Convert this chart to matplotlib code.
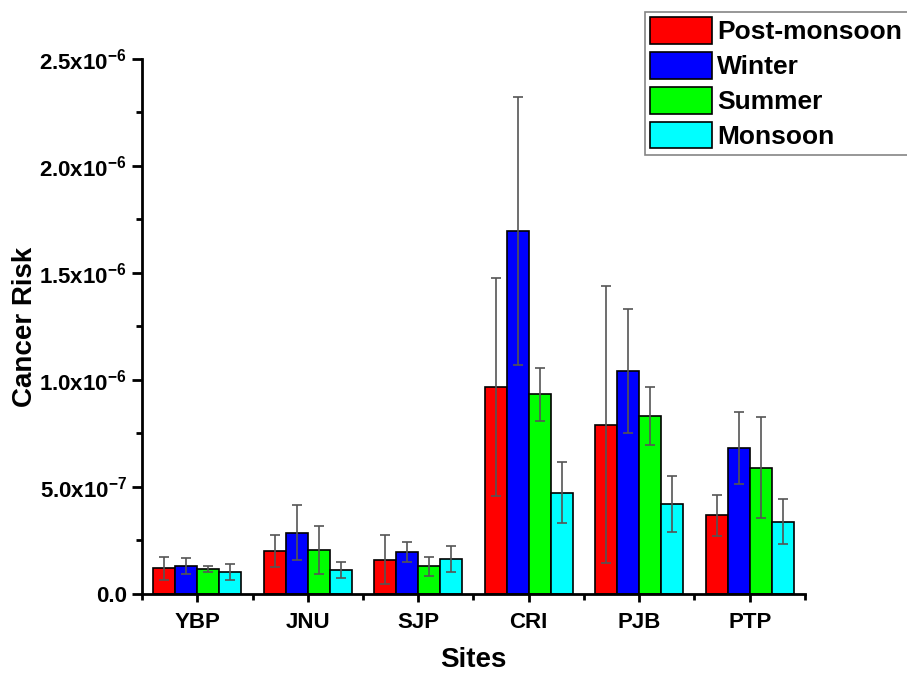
import matplotlib
matplotlib.use("Agg")
import matplotlib.pyplot as plt
import numpy as np
from matplotlib.ticker import MultipleLocator, FixedLocator

plt.rcParams['font.family'] = ['Liberation Sans', 'DejaVu Sans']
plt.rcParams['font.weight'] = 'bold'
plt.rcParams['mathtext.fontset'] = 'custom'
plt.rcParams['mathtext.rm'] = 'Liberation Sans:bold'
plt.rcParams['mathtext.bf'] = 'Liberation Sans:bold'
plt.rcParams['mathtext.it'] = 'Liberation Sans:bold'

sites = ["YBP", "JNU", "SJP", "CRI", "PJB", "PTP"]
seasons = ["Post-monsoon", "Winter", "Summer", "Monsoon"]
colors = ["#ff0000", "#0000ff", "#00ff00", "#00ffff"]

post_monsoon = [1.20e-7, 2.01e-7, 1.60e-7, 9.67e-7, 7.91e-7, 3.68e-7]
winter       = [1.32e-7, 2.86e-7, 1.96e-7, 16.95e-7, 10.44e-7, 6.82e-7]
summer       = [1.17e-7, 2.04e-7, 1.29e-7, 9.33e-7, 8.31e-7, 5.89e-7]
monsoon      = [1.03e-7, 1.11e-7, 1.64e-7, 4.73e-7, 4.21e-7, 3.38e-7]

post_monsoon_err = [0.55e-7, 0.73e-7, 1.14e-7, 5.10e-7, 6.46e-7, 0.96e-7]
winter_err       = [0.38e-7, 1.28e-7, 0.45e-7, 6.27e-7, 2.90e-7, 1.70e-7]
summer_err       = [0.15e-7, 1.12e-7, 0.44e-7, 1.23e-7, 1.36e-7, 2.36e-7]
monsoon_err      = [0.37e-7, 0.37e-7, 0.59e-7, 1.43e-7, 1.30e-7, 1.05e-7]

ytick_labels = ["0.0", r"5.0x10$^{-7}$", r"1.0x10$^{-6}$", r"1.5x10$^{-6}$",
                r"2.0x10$^{-6}$", r"2.5x10$^{-6}$"]

values = [post_monsoon, winter, summer, monsoon]
errors = [post_monsoon_err, winter_err, summer_err, monsoon_err]

fig = plt.figure(figsize=(9.07, 6.74), dpi=100)
ax = fig.add_axes([0.1566, 0.1187, 0.7309, 0.7938])

x = np.arange(1, len(sites) + 1)
w = 0.2
handles = []
for i, (vals, errs, c, lab) in enumerate(zip(values, errors, colors, seasons)):
    pos = x + (i - 1.5) * w
    b = ax.bar(pos, vals, width=w, color=c, edgecolor='black', linewidth=1.2,
               label=lab, zorder=2)
    ax.errorbar(pos, vals, yerr=errs, fmt='none', ecolor='#555555',
                elinewidth=1.2, capsize=3.6, capthick=1.2, zorder=3)
    handles.append(b)

ax.set_xlim(0.5, 6.5)
ax.set_ylim(0, 2.5e-6)
ax.spines['top'].set_visible(False)
ax.spines['right'].set_visible(False)
ax.spines['left'].set_linewidth(2)
ax.spines['bottom'].set_linewidth(2)

ax.set_xticks(x)
ax.set_xticklabels(sites, fontsize=16, fontweight='bold')
ax.xaxis.set_minor_locator(FixedLocator(np.arange(0.5, 7.0, 1.0)))

yt = np.arange(0, 2.51e-6, 5e-7)
ax.set_yticks(yt)
ax.set_yticklabels(ytick_labels, fontsize=16, fontweight='bold')
ax.yaxis.set_minor_locator(MultipleLocator(2.5e-7))

ax.tick_params(axis='y', which='major', direction='out', length=7, width=2, pad=4)
ax.tick_params(axis='x', which='major', direction='out', length=6, width=2, pad=7)
ax.tick_params(axis='both', which='minor', direction='out', length=4, width=2)

ax.set_xlabel("Sites", fontsize=20, fontweight='bold', labelpad=10)
ax.set_ylabel("Cancer Risk", fontsize=20, fontweight='bold', labelpad=1)

leg = fig.legend(handles=handles, labels=seasons, loc='upper left',
                 bbox_to_anchor=(0.711, 0.982), fontsize=19, frameon=True,
                 fancybox=False, edgecolor='#666666', handlelength=2.35,
                 handleheight=1.15, labelspacing=0.3, borderpad=0.2,
                 handletextpad=0.2, borderaxespad=0)
leg.get_frame().set_linewidth(1.2)
for t in leg.get_texts():
    t.set_fontweight('bold')

fig.savefig("out.png", dpi=100)
